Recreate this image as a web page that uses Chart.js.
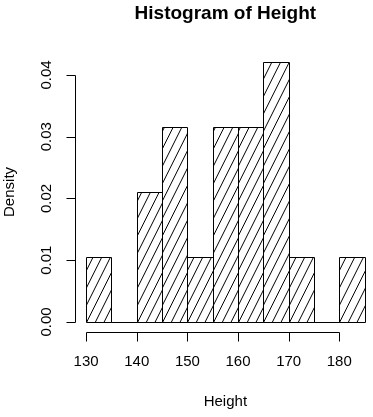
<!DOCTYPE html>
<html lang="en">
<head>
<meta charset="UTF-8">
<title>Histogram of Height</title>
<script src="https://cdn.jsdelivr.net/npm/chart.js@4"></script>
<style>
  html, body { margin: 0; padding: 0; background: #fff; }
  #wrap { width: 373px; height: 417px; }
</style>
</head>
<body>
<div id="wrap"><canvas id="hist"></canvas></div>
<script>
// histogram bins (width 5) and densities
const binStarts = [130, 135, 140, 145, 150, 155, 160, 165, 170, 175, 180];
const binWidth = 5;
const densities = [0.0105, 0, 0.0211, 0.0316, 0.0105, 0.0316, 0.0316, 0.0421, 0.0105, 0, 0.0105];
const xTicks = [130, 140, 150, 160, 170, 180];
const xTickLabels = ['130', '140', '150', '160', '170', '180'];
const yTicks = [0, 0.01, 0.02, 0.03, 0.04];
const yTickLabels = ['0.00', '0.01', '0.02', '0.03', '0.04'];

const FONT = "'Liberation Sans', Arial, sans-serif";
const hatchGap = 8.7;   // horizontal spacing of shading lines
const hatchSlope = 2;   // rise over run

function crisp(v) {
    return Math.round(v) + 0.5;
}

// R style rect(): shading lines + 1px outline, from the bar elements
const rBars = {
    id: 'rBars',
    afterDatasetsDraw(chart) {
        const ctx = chart.ctx;
        const meta = chart.getDatasetMeta(0);
        ctx.save();
        ctx.strokeStyle = '#000';
        ctx.lineWidth = 1;
        meta.data.forEach(function (bar) {
            const p = bar.getProps(['x', 'y', 'base', 'width'], true);
            const left = crisp(p.x - p.width / 2);
            const right = crisp(p.x + p.width / 2);
            const top = crisp(p.y);
            const bottom = crisp(p.base);
            const h = bottom - top;
            if (h >= 1) {
                ctx.save();
                ctx.beginPath();
                ctx.rect(left, top, right - left, h);
                ctx.clip();
                ctx.beginPath();
                const run = h / hatchSlope;
                let x0 = left - Math.ceil(run / hatchGap) * hatchGap;
                for (; x0 < right; x0 += hatchGap) {
                    ctx.moveTo(x0, bottom);
                    ctx.lineTo(x0 + run, top);
                }
                ctx.stroke();
                ctx.restore();
            }
            ctx.beginPath();
            ctx.rect(left, top, right - left, h);
            ctx.stroke();
        });
        ctx.restore();
    }
};

// axes, labels and title drawn like base R graphics
const rAxes = {
    id: 'rAxes',
    afterDraw(chart) {
        const ctx = chart.ctx;
        const xs = chart.scales.x;
        const ys = chart.scales.y;
        const area = chart.chartArea;
        ctx.save();
        ctx.strokeStyle = '#000';
        ctx.fillStyle = '#000';
        ctx.lineWidth = 1;

        // y axis
        const ax = crisp(area.left);
        ctx.beginPath();
        ctx.moveTo(ax, crisp(ys.getPixelForValue(yTicks[0])));
        ctx.lineTo(ax, crisp(ys.getPixelForValue(yTicks[yTicks.length - 1])));
        yTicks.forEach(function (v) {
            const py = crisp(ys.getPixelForValue(v));
            ctx.moveTo(ax, py);
            ctx.lineTo(ax - 9, py);
        });
        ctx.stroke();
        ctx.font = '15px ' + FONT;
        ctx.textAlign = 'center';
        ctx.textBaseline = 'middle';
        yTicks.forEach(function (v, i) {
            ctx.save();
            ctx.translate(47, ys.getPixelForValue(v));
            ctx.rotate(-Math.PI / 2);
            ctx.fillText(yTickLabels[i], 0, 0);
            ctx.restore();
        });

        // x axis
        const ay = crisp(area.bottom);
        ctx.beginPath();
        ctx.moveTo(crisp(xs.getPixelForValue(xTicks[0])), ay);
        ctx.lineTo(crisp(xs.getPixelForValue(xTicks[xTicks.length - 1])), ay);
        xTicks.forEach(function (v) {
            const px = crisp(xs.getPixelForValue(v));
            ctx.moveTo(px, ay);
            ctx.lineTo(px, ay + 9);
        });
        ctx.stroke();
        xTicks.forEach(function (v, i) {
            ctx.fillText(xTickLabels[i], xs.getPixelForValue(v), 362);
        });

        // axis titles
        const midX = (xs.getPixelForValue(127.8) + xs.getPixelForValue(187.2)) / 2;
        ctx.fillText('Height', midX, 402);
        ctx.save();
        ctx.translate(10, (area.top + area.bottom) / 2);
        ctx.rotate(-Math.PI / 2);
        ctx.fillText('Density', 0, 0);
        ctx.restore();

        // main title
        ctx.font = 'bold 19px ' + FONT;
        ctx.fillText('Histogram of Height', midX, 14);
        ctx.restore();
    }
};

const barData = binStarts.map(function (b, i) {
    return { x: b + binWidth / 2, y: densities[i] };
});

new Chart(document.getElementById('hist'), {
    type: 'bar',
    data: {
        datasets: [{
            data: barData,
            backgroundColor: 'rgba(0,0,0,0)',
            borderWidth: 0,
            barPercentage: 1,
            categoryPercentage: 1
        }]
    },
    options: {
        responsive: true,
        maintainAspectRatio: false,
        animation: false,
        layout: { padding: { left: 75, top: 51.5, right: 0, bottom: 84.6 } },
        plugins: {
            legend: { display: false },
            tooltip: { enabled: false },
            title: { display: false }
        },
        scales: {
            x: { type: 'linear', min: 127.8, max: 186.66, offset: false, display: false },
            y: { min: -0.00168, max: 0.04379, display: false }
        }
    },
    plugins: [rBars, rAxes]
});
</script>
</body>
</html>
